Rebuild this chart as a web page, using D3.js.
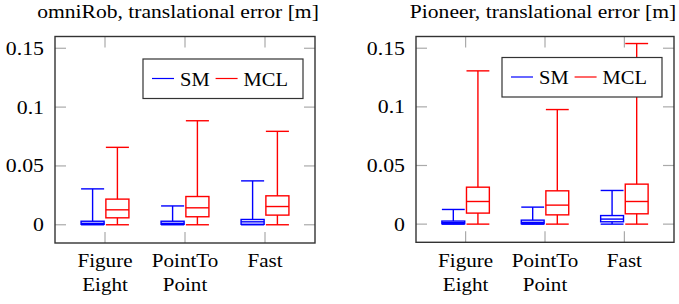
<!DOCTYPE html>
<html>
<head>
<meta charset="utf-8">
<script src="https://cdn.jsdelivr.net/npm/d3@7"></script>
<style>
  body { margin: 0; background: #fff; }
  svg { display: block; }
  text { font-family: 'Liberation Serif', 'Times New Roman', Times, serif; fill: #000; }
</style>
</head>
<body>
<svg id="chart" width="679" height="304"></svg>
<script>
// category labels (two lines each)
const categories = [['Figure', 'Eight'], ['PointTo', 'Point'], ['Fast']]
const yTicks = [0, 0.05, 0.1, 0.15]
const seriesNames = ['SM', 'MCL']

// box stats: [min, q1, median, q3, max] per category
const omniSM = [
    [0, 0.0004, 0.0012, 0.0030, 0.0305],
    [0, 0.0004, 0.0012, 0.0030, 0.0160],
    [0, 0.0004, 0.0025, 0.0045, 0.0373]
]
const omniMCL = [
    [0, 0.0059, 0.0127, 0.0218, 0.0658],
    [0, 0.0068, 0.0144, 0.0240, 0.0884],
    [0, 0.0082, 0.0155, 0.0246, 0.0794]
]
const pioneerSM = [
    [0, 0.0003, 0.0012, 0.0026, 0.0125],
    [0, 0.0003, 0.0015, 0.0034, 0.0145],
    [0, 0.0020, 0.0043, 0.0073, 0.0287]
]
const pioneerMCL = [
    [0, 0.0094, 0.0193, 0.0315, 0.1307],
    [0, 0.0079, 0.0162, 0.0284, 0.0977],
    [0, 0.0088, 0.0193, 0.0341, 0.1540]
]

const colors = { SM: '#0000ff', MCL: '#ff0000' }
const SX = 1.18 // the reference text is a bit wide
const svg = d3.select('#chart')

function label (g, x, y, str, anchor, size, sx = SX) {
    return g.append('text')
        .attr('transform', `translate(${x},${y}) scale(${sx},1)`)
        .attr('text-anchor', anchor)
        .style('font-size', size + 'px')
        .text(str)
}

function drawPanel (p) {
    const g = svg.append('g')
    const x = d3.scaleLinear().domain([0.375, 3.625]).range([p.left, p.right])
    const y = d3.scaleLinear().domain([-0.0155, 0.16]).range([p.bottom, p.top])

    // title
    label(g, (p.left + p.right) / 2 + p.titleDx, 18, p.title, 'middle', 18.3)

    // ticks inside the frame, on all four sides
    const tickLen = 11
    const ticks = g.append('g').attr('stroke', '#aaa').attr('stroke-width', 1.2)
    yTicks.forEach(v => {
        ticks.append('line').attr('x1', p.left).attr('x2', p.left + tickLen).attr('y1', y(v)).attr('y2', y(v))
        ticks.append('line').attr('x1', p.right).attr('x2', p.right - tickLen).attr('y1', y(v)).attr('y2', y(v))
        label(g, p.left - 11, y(v) + 6.5, d3.format('~g')(v), 'end', 18.5)
    })
    categories.forEach((c, i) => {
        const cx = x(i + 1)
        ticks.append('line').attr('x1', cx).attr('x2', cx).attr('y1', p.bottom).attr('y2', p.bottom - tickLen)
        ticks.append('line').attr('x1', cx).attr('x2', cx).attr('y1', p.top).attr('y2', p.top + tickLen)
        c.forEach((line, j) => label(g, cx, 267 + j * 24, line, 'middle', 18.5, 1.14))
    })

    // boxes
    const half = 0.144
    const offsets = [-0.155, 0.155]
    ;[p.sm, p.mcl].forEach((series, s) => {
        const col = colors[seriesNames[s]]
        const bg = g.append('g').attr('stroke', col).attr('stroke-width', 1.4).attr('fill', 'none')
        series.forEach((d, i) => {
            const c = i + 1 + offsets[s]
            const x0 = x(c - half)
            const x1 = x(c + half)
            const xc = x(c)
            const [mn, q1, md, q3, mx] = d
            bg.append('line').attr('x1', xc).attr('x2', xc).attr('y1', y(q3)).attr('y2', y(mx))
            bg.append('line').attr('x1', xc).attr('x2', xc).attr('y1', y(q1)).attr('y2', y(mn))
            bg.append('line').attr('x1', x0).attr('x2', x1).attr('y1', y(mx)).attr('y2', y(mx))
            bg.append('line').attr('x1', x0).attr('x2', x1).attr('y1', y(mn)).attr('y2', y(mn))
            bg.append('rect').attr('x', x0).attr('y', y(q3)).attr('width', x1 - x0).attr('height', y(q1) - y(q3))
            bg.append('line').attr('x1', x0).attr('x2', x1).attr('y1', y(md)).attr('y2', y(md))
        })
    })

    // frame
    g.append('rect')
        .attr('x', p.left).attr('y', p.top)
        .attr('width', p.right - p.left).attr('height', p.bottom - p.top)
        .attr('fill', 'none').attr('stroke', '#333').attr('stroke-width', 1.4)

    // legend
    const lx = p.right - 172
    const ly = p.top + p.legendDy
    const lg = g.append('g')
    lg.append('rect').attr('x', lx).attr('y', ly).attr('width', 160).attr('height', 39.5)
        .attr('fill', '#fff').attr('stroke', '#333').attr('stroke-width', 1.2)
    let cur = lx + 9
    seriesNames.forEach(name => {
        lg.append('line').attr('x1', cur).attr('x2', cur + 22).attr('y1', ly + 19.5).attr('y2', ly + 19.5)
            .attr('stroke', colors[name]).attr('stroke-width', 1.2)
        const t = label(lg, cur + 28, ly + 26.5, name, 'start', 19.5, 1.05)
        cur += 28 + t.node().getComputedTextLength() * 1.05 + 6
    })
}

drawPanel({ left: 55, right: 315, top: 36.5, bottom: 243, titleDx: -7,
    title: 'omniRob, translational error [m]', sm: omniSM, mcl: omniMCL, legendDy: 22.5 })
drawPanel({ left: 416, right: 674, top: 36.5, bottom: 242.3, titleDx: -2,
    title: 'Pioneer, translational error [m]', sm: pioneerSM, mcl: pioneerMCL, legendDy: 21 })
</script>
</body>
</html>
